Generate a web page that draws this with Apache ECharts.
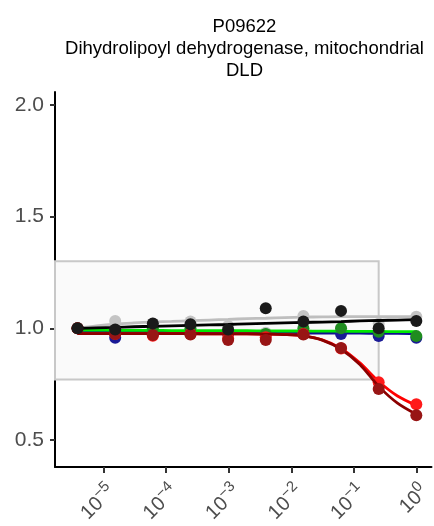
<!DOCTYPE html>
<html><head><meta charset="utf-8">
<script src="https://cdn.jsdelivr.net/npm/echarts@6/dist/echarts.min.js"></script>
<style>html,body{margin:0;padding:0;background:#fff}#c{width:434px;height:526px}</style>
</head><body><div id="c"></div>
<script>
const TITLE_LINES = ['P09622', 'Dihydrolipoyl dehydrogenase, mitochondrial', 'DLD'];
const DOSES = [3.815e-6, 1.526e-5, 6.104e-5, 2.441e-4, 9.766e-4, 3.906e-3, 1.5625e-2, 6.25e-2, 0.25, 1];
const X_TICK_EXPONENTS = [-5, -4, -3, -2, -1, 0];
const Y_TICKS = [0.5, 1.0, 1.5, 2.0];
const X_RANGE_LOG = [-5.779, 0.243];
const Y_RANGE = [0.379, 2.058];
const RECT_DOSE_MAX = 0.25;
const RECT_Y = [0.771, 1.30];

const pts_gray    = [1.000, 1.033, 1.020, 1.030, 1.010, 0.980, 1.055, 1.000, 1.020, 1.052];
const pts_blue    = [1.000, 0.958, 0.975, 0.978, 0.975, 0.972, 0.975, 0.975, 0.965, 0.958];
const pts_green   = [1.000, 0.985, 1.000, 1.000, 0.982, 0.975, 1.000, 1.000, 0.985, 0.965];
const pts_red     = [1.000, 0.975, 0.967, 0.975, 0.955, 0.960, 0.975, 0.910, 0.758, 0.660];
const pts_darkred = [1.000, 0.975, 0.970, 0.972, 0.948, 0.948, 0.972, 0.912, 0.728, 0.611];
const pts_black   = [1.000, 0.995, 1.022, 1.018, 0.995, 1.090, 1.030, 1.078, 1.000, 1.033];

const CURVE_DOSES = [3.815e-6, 7.629e-6, 1.526e-5, 3.052e-5, 6.104e-5, 1.221e-4, 2.441e-4, 4.883e-4, 9.766e-4, 1.953e-3,
                     3.906e-3, 7.813e-3, 1.5625e-2, 3.125e-2, 6.25e-2, 0.125, 0.25, 0.5, 1];
const fit_gray    = [1.000, 1.011, 1.019, 1.024, 1.028, 1.031, 1.034, 1.037, 1.040, 1.043, 1.045, 1.048, 1.050, 1.051, 1.052, 1.052, 1.052, 1.052, 1.052];
const fit_black   = [1.000, 1.002, 1.004, 1.007, 1.009, 1.011, 1.013, 1.015, 1.017, 1.020, 1.022, 1.024, 1.026, 1.028, 1.030, 1.033, 1.035, 1.037, 1.039];
const fit_green   = [0.992, 0.992, 0.991, 0.991, 0.991, 0.990, 0.990, 0.990, 0.989, 0.989, 0.988, 0.988, 0.988, 0.987, 0.987, 0.986, 0.986, 0.985, 0.985];
const fit_blue    = [0.984, 0.984, 0.983, 0.983, 0.982, 0.982, 0.981, 0.981, 0.980, 0.980, 0.980, 0.979, 0.979, 0.979, 0.978, 0.978, 0.977, 0.977, 0.976];
const fit_red     = [0.976, 0.976, 0.976, 0.976, 0.976, 0.976, 0.976, 0.975, 0.975, 0.975, 0.974, 0.972, 0.966, 0.948, 0.910, 0.845, 0.762, 0.697, 0.655];
const fit_darkred = [0.976, 0.976, 0.976, 0.976, 0.976, 0.976, 0.976, 0.975, 0.975, 0.975, 0.974, 0.972, 0.966, 0.947, 0.906, 0.838, 0.740, 0.665, 0.615];

const GROUPS = [
  {name: 'gray',    pts: pts_gray,    fit: fit_gray,    line: '#bebebe', point: '#c4c4c4'},
  {name: 'blue',    pts: pts_blue,    fit: fit_blue,    line: '#10108f', point: '#1a1a96'},
  {name: 'green',   pts: pts_green,   fit: fit_green,   line: '#00e600', point: '#1f8c1f'},
  {name: 'red',     pts: pts_red,     fit: fit_red,     line: '#ff0000', point: '#ff1a1a'},
  {name: 'darkred', pts: pts_darkred, fit: fit_darkred, line: '#8b0000', point: '#981515'},
  {name: 'black',   pts: pts_black,   fit: fit_black,   line: '#000000', point: '#1a1a1a'}
];

const FONT = "'Liberation Sans', Arial, sans-serif";
const lg = Math.log10;

const series = [{
  type: 'line', data: [], silent: true, z: 1,
  markArea: {
    silent: true,
    itemStyle: {color: '#fafafa', borderColor: '#c8c8c8', borderWidth: 2},
    data: [[{coord: [X_RANGE_LOG[0], RECT_Y[1]]}, {coord: [lg(RECT_DOSE_MAX), RECT_Y[0]]}]]
  }
}];
GROUPS.forEach((g, i) => {
  series.push({
    type: 'line', name: g.name + ' fit', z: 2 + i * 2,
    data: CURVE_DOSES.map((d, k) => [lg(d), g.fit[k]]),
    smooth: 0.3, showSymbol: false, symbol: 'none',
    lineStyle: {color: g.line, width: 2.8}, silent: true
  });
  series.push({
    type: 'scatter', name: g.name, z: 3 + i * 2,
    data: DOSES.map((d, k) => [lg(d), g.pts[k]]),
    symbolSize: 12, itemStyle: {color: g.point, opacity: 1}, silent: true
  });
});

const chart = echarts.init(document.getElementById('c'), null, {renderer: 'canvas'});
chart.setOption({
  animation: false,
  backgroundColor: '#ffffff',
  title: {
    text: TITLE_LINES.join('\n'),
    left: 239.5, top: 11, textAlign: 'center',
    textStyle: {fontFamily: FONT, fontSize: 18.5, fontWeight: 'normal', color: '#000', lineHeight: 22}
  },
  grid: {left: 55, right: 0, top: 92, bottom: 59, containLabel: false},
  xAxis: {
    type: 'value', min: X_RANGE_LOG[0], max: X_RANGE_LOG[1],
    axisLine: {show: true, onZero: false, lineStyle: {color: '#000', width: 2}},
    axisTick: {show: true, length: 6, customValues: X_TICK_EXPONENTS, lineStyle: {color: '#333', width: 2}},
    splitLine: {show: false},
    axisLabel: {
      customValues: X_TICK_EXPONENTS, rotate: 45, margin: 13, padding: [20, 0, 0, 0],
      formatter: v => { const e = Math.round(v); return '{b|10}{s|' + (e < 0 ? '\u2212' + (-e) : String(e)) + '}'; },
      rich: {
        b: {fontFamily: FONT, fontSize: 20, color: '#4d4d4d', lineHeight: 24, verticalAlign: 'bottom'},
        s: {fontFamily: FONT, fontSize: 15, color: '#4d4d4d', lineHeight: 16, verticalAlign: 'top'}
      }
    }
  },
  yAxis: {
    type: 'value', min: Y_RANGE[0], max: Y_RANGE[1],
    axisLine: {show: true, onZero: false, lineStyle: {color: '#000', width: 2}},
    axisTick: {show: true, length: 5, customValues: Y_TICKS, lineStyle: {color: '#333', width: 2}},
    splitLine: {show: false},
    axisLabel: {
      customValues: Y_TICKS, margin: 11,
      fontFamily: FONT, fontSize: 21, color: '#4d4d4d',
      formatter: v => v.toFixed(1)
    }
  },
  series: series
});
</script></body></html>
